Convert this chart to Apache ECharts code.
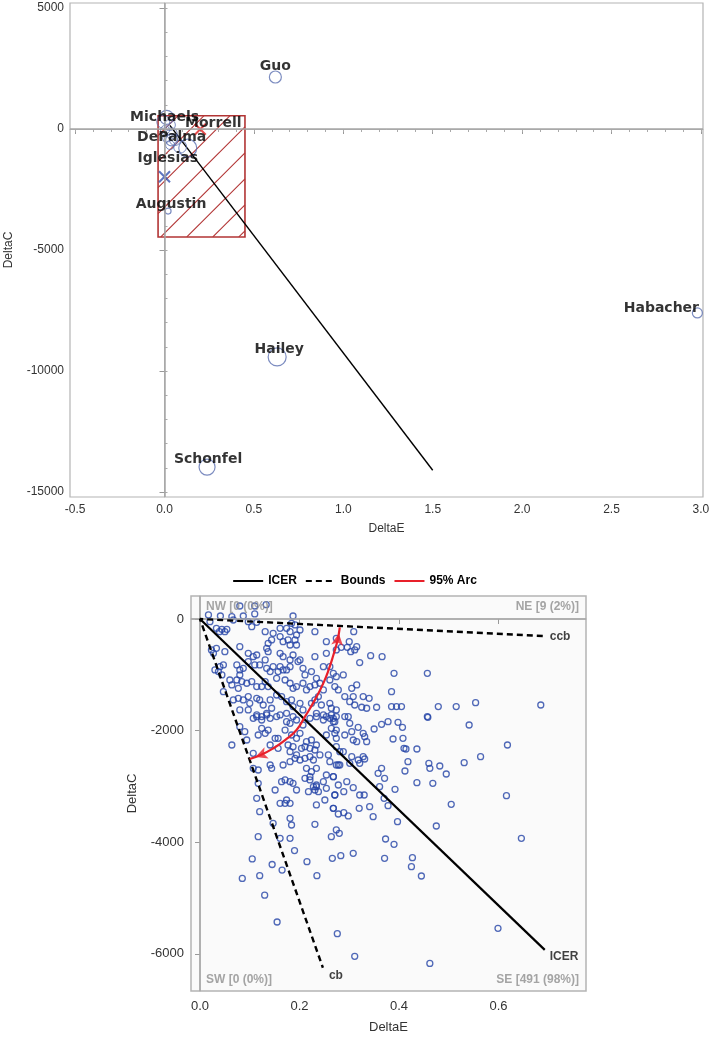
<!DOCTYPE html>
<html><head><meta charset="utf-8">
<script src="https://cdn.jsdelivr.net/npm/echarts@6/dist/echarts.min.js"></script>
<style>html,body{margin:0;padding:0;background:#fff}#c{width:709px;height:1040px}</style>
</head><body><div id="c"></div>
<script>
// ---------- TOP CHART DATA ----------
const studyNames = ['Guo','Michaels','DePalma','Iglesias','Augustin','Habacher','Hailey','Schonfel'];
const studyE = [0.62, 0.012, 0.04, 0.13, 0.02, 2.98, 0.63, 0.238];
const studyC = [2150, 480, -450, -790, -3390, -7600, -9420, -13970];
const clusterE = [-0.007, 0.03, 0.003, 0.04, 0.012, 0.059, 0.031, 0.087];
const clusterC = [300, 165, -40, -180, -385, -455, -660, -730];
const redXName = 'Morrell';
const redXE = [0.2];
const redXC = [-10];
const blueXE = [0.0];
const blueXC = [-1970];
const pooledLineE = [0.03, 1.5];
const pooledLineC = [150, -14100];
const rectE = [-0.036, 0.45];
const rectC = [550, -4460];
const topXTicks = [-0.5, 0, 0.5, 1, 1.5, 2, 2.5, 3];
const topXMinor = [-0.5,-0.4,-0.3,-0.2,-0.1,0,0.1,0.2,0.3,0.4,0.5,0.6,0.7,0.8,0.9,1,1.1,1.2,1.3,1.4,1.5,1.6,1.7,1.8,1.9,2,2.1,2.2,2.3,2.4,2.5,2.6,2.7,2.8,2.9,3];
const topYTicks = [-15000, -10000, -5000, 0, 5000];
const topYMinor = [-15000,-14000,-13000,-12000,-11000,-10000,-9000,-8000,-7000,-6000,-5000,-4000,-3000,-2000,-1000,0,1000,2000,3000,4000,5000];

// ---------- BOTTOM CHART DATA ----------
const bootPoints = [
[0.017,72],[0.020,-48],[0.041,54],[0.064,42],[0.067,-18],[0.087,54],[0.097,-48],[0.110,90],[0.114,-60],[0.080,233],[0.110,233],[0.133,257],[0.187,54],[0.184,-78],
[0.033,-167],[0.044,-185],[0.054,-185],[0.039,-227],[0.050,-227],[0.104,-137],[0.131,-227],[0.147,-257],[0.161,-167],[0.174,-167],[0.181,-227],[0.191,-107],[0.201,-197],[0.194,-287],[0.161,-316],[0.144,-376],[0.137,-436],[0.167,-406],[0.177,-376],[0.181,-466],[0.191,-376],[0.194,-466],[0.231,-227],[0.254,-406],[0.274,-346],
[0.023,-555],[0.033,-525],[0.027,-615],[0.050,-585],[0.080,-496],[0.097,-615],[0.107,-675],[0.114,-645],[0.134,-525],[0.137,-585],[0.161,-615],[0.167,-675],[0.181,-734],[0.187,-645],[0.201,-734],[0.231,-675],[0.254,-615],[0.274,-555],
[0.030,-913],[0.040,-854],[0.047,-824],[0.037,-943],[0.044,-1003],[0.074,-824],[0.080,-913],[0.087,-884],[0.080,-1003],[0.097,-764],[0.110,-824],[0.120,-824],[0.131,-734],[0.134,-884],[0.141,-943],[0.147,-854],[0.157,-943],[0.161,-854],[0.167,-913],[0.174,-913],[0.181,-854],[0.197,-764],[0.207,-884],[0.211,-1003],[0.224,-943],[0.234,-1063],[0.248,-854],[0.261,-854],[0.268,-973],[0.274,-1033],
[0.060,-1093],[0.064,-1182],[0.074,-1093],[0.077,-1242],[0.084,-1122],[0.094,-1152],[0.104,-1122],[0.114,-1212],[0.124,-1212],[0.131,-1122],[0.137,-1212],[0.154,-1063],[0.171,-1093],[0.181,-1152],[0.187,-1242],[0.194,-1212],[0.207,-1152],[0.214,-1272],[0.221,-1212],[0.231,-1182],[0.241,-1152],[0.248,-1272],[0.261,-1093],[0.271,-1212],[0.278,-1272],
[0.047,-1302],[0.067,-1451],[0.077,-1421],[0.087,-1451],[0.097,-1391],[0.100,-1511],[0.114,-1421],[0.120,-1451],[0.127,-1541],[0.141,-1451],[0.154,-1362],[0.164,-1391],[0.174,-1481],[0.184,-1451],[0.187,-1570],[0.201,-1511],[0.207,-1630],[0.224,-1511],[0.231,-1451],[0.238,-1391],[0.244,-1541],[0.261,-1511],[0.264,-1600],[0.274,-1630],
[0.080,-1630],[0.097,-1630],[0.114,-1720],[0.124,-1749],[0.134,-1690],[0.144,-1600],[0.154,-1749],[0.161,-1720],[0.174,-1690],[0.187,-1749],[0.234,-1690],[0.248,-1720],[0.254,-1749],[0.264,-1720],[0.274,-1749],
[0.309,-227],[0.300,-406],[0.315,-496],[0.284,-508],[0.296,-508],[0.303,-585],[0.311,-555],[0.343,-657],[0.366,-675],[0.321,-782],[0.288,-1003],[0.390,-973],[0.457,-973],[0.315,-1182],[0.305,-1242],[0.291,-1391],[0.308,-1391],[0.328,-1391],[0.340,-1421],[0.385,-1302],[0.301,-1481],[0.311,-1541],[0.325,-1582],[0.335,-1600],[0.355,-1582],[0.385,-1570],[0.395,-1570],[0.405,-1570],[0.479,-1570],[0.515,-1570],[0.554,-1499],[0.685,-1541],[0.291,-1749],[0.457,-1749],
[0.080,-1930],[0.090,-2019],[0.064,-2258],[0.094,-2169],[0.107,-1780],[0.114,-1750],[0.124,-1810],[0.134,-1720],[0.141,-1780],[0.124,-1960],[0.137,-1990],[0.117,-2079],[0.131,-2049],[0.151,-2139],[0.157,-2139],[0.141,-2258],[0.157,-2318],[0.174,-1840],[0.181,-1870],[0.194,-1810],[0.207,-1900],[0.221,-1780],[0.234,-1750],[0.248,-1810],[0.261,-1780],[0.268,-1840],[0.171,-1990],[0.184,-2079],[0.194,-2139],[0.201,-2049],[0.214,-2199],[0.224,-2169],[0.234,-2258],[0.177,-2258],[0.187,-2288],[0.204,-2318],[0.211,-2288],[0.221,-2318],[0.231,-2348],[0.241,-2437],[0.254,-2079],[0.264,-1960],[0.271,-2049],[0.274,-2139],[0.274,-2288],[0.181,-2378],[0.194,-2437],[0.191,-2497],[0.201,-2527],[0.211,-2497],[0.221,-2467],[0.228,-2527],[0.167,-2617],[0.181,-2557],[0.214,-2676],[0.224,-2736],[0.234,-2676],[0.107,-2408],[0.141,-2617],[0.144,-2676],[0.107,-2676],[0.117,-2706],[0.181,-2915],[0.171,-2885],[0.164,-2915],[0.187,-2945],[0.211,-2856],[0.221,-2826],[0.221,-2885],[0.234,-2975],[0.248,-2915],[0.254,-2796],[0.268,-2826],[0.274,-2617],[0.261,-2557],[0.258,-2437],[0.117,-2945],[0.151,-3065],[0.194,-3065],[0.218,-3094],[0.228,-3005],[0.234,-3005],[0.231,-3065],[0.238,-3094],[0.254,-3035],[0.271,-3154],[0.114,-3214],[0.161,-3304],[0.171,-3304],[0.181,-3304],[0.174,-3244],[0.234,-3333],[0.251,-3244],[0.268,-3393],[0.120,-3453],[0.181,-3572],[0.184,-3692],[0.231,-3680],[0.147,-3662],[0.117,-3901],[0.161,-3931],[0.181,-3931],[0.274,-3781],[0.264,-3901],
[0.298,-1750],[0.271,-1840],[0.268,-1780],[0.301,-1870],[0.274,-1990],[0.291,-2079],[0.305,-2019],[0.318,-1942],[0.328,-2049],[0.331,-2109],[0.335,-2199],[0.315,-2199],[0.308,-2169],[0.350,-1972],[0.365,-1888],[0.378,-1840],[0.398,-1852],[0.407,-1942],[0.388,-2151],[0.408,-2139],[0.458,-1762],[0.541,-1900],[0.410,-2318],[0.414,-2330],[0.436,-2330],[0.618,-2258],[0.564,-2467],[0.531,-2575],[0.288,-2378],[0.281,-2378],[0.305,-2467],[0.328,-2467],[0.331,-2509],[0.318,-2527],[0.321,-2587],[0.301,-2587],[0.278,-2617],[0.281,-2617],[0.418,-2557],[0.460,-2587],[0.462,-2676],[0.482,-2635],[0.495,-2778],[0.365,-2676],[0.358,-2766],[0.371,-2856],[0.412,-2724],[0.268,-2826],[0.278,-2975],[0.295,-2915],[0.308,-3023],[0.289,-3094],[0.271,-3154],[0.321,-3154],[0.330,-3154],[0.361,-3005],[0.392,-3053],[0.436,-2933],[0.468,-2945],[0.370,-3214],[0.378,-3345],[0.341,-3363],[0.348,-3542],[0.320,-3393],[0.289,-3471],[0.278,-3495],[0.298,-3530],[0.268,-3393],[0.616,-3166],[0.505,-3322],[0.397,-3632],[0.475,-3710],[0.280,-3841],[0.373,-3943],[0.390,-4038],[0.646,-3931],[0.266,-4289],[0.283,-4241],[0.308,-4200],[0.371,-4289],[0.427,-4277],[0.425,-4439],[0.445,-4606],[0.599,-5544],[0.276,-5640],[0.311,-6046],[0.462,-6172],
[0.085,-4650],[0.105,-4300],[0.130,-4950],[0.155,-5430],[0.120,-4600],[0.165,-4500],[0.190,-4150],[0.145,-4400],[0.215,-4350],[0.235,-4600]
];
const icerE = [0, 0.693];
const icerC = [0, -5930];
const boundsE = [0.689, 0, 0.247];   // ccb end, origin, cb end
const boundsC = [-305, 0, -6250];
const arcE = [0.281, 0.276, 0.268, 0.259, 0.248, 0.231, 0.211, 0.194, 0.171, 0.147, 0.124, 0.100];
const arcC = [-150, -400, -650, -900, -1150, -1450, -1750, -1990, -2170, -2320, -2430, -2510];
const quadNames = ['NW', 'NE', 'SW', 'SE'];
const quadCounts = [0, 9, 0, 491];
const quadPct = [0, 2, 0, 98];
const botXTicks = [0, 0.2, 0.4, 0.6];
const botYTicks = [-6000, -4000, -2000, 0];

// ---------- layout / style ----------
const T = {min:-0.5285, max:3.0115, ymin:-15207, ymax:5207};
const B = {min:-0.0181, max:0.7759, ymin:-6667, ymax:412};
const FONT = 'Liberation Sans, Arial, sans-serif';
const LBL = 'DejaVu Sans, Verdana, sans-serif';
const studyStyle = {
  Guo:{size:12, off:[0,-11]}, Michaels:{size:14, off:[-2,0]}, DePalma:{size:12, off:[0,-3]},
  Iglesias:{size:18, off:[-20,10]}, Augustin:{size:6, off:[3,-7]}, Habacher:{size:10, off:[-36,-5]},
  Hailey:{size:18, off:[2,-8]}, Schonfel:{size:16, off:[1,-8]}
};
const clusterSizes = [13, 11, 9, 11, 8, 11, 9, 13];
const HATCH = 26;
const RED = '#b23434';

const axisGrey = '#b4b4b4';
const xPath = 'path://M0,0L10,10M10,0L0,10';

function zipEC(E, C){ return E.map((e,i)=>[e, C[i]]); }

function renderHatchRect(params, api){
  const a = api.coord([api.value(0), api.value(1)]);
  const b = api.coord([api.value(2), api.value(3)]);
  const x0 = Math.min(a[0], b[0]), x1 = Math.max(a[0], b[0]);
  const y0 = Math.min(a[1], b[1]), y1 = Math.max(a[1], b[1]);
  const children = [];
  for (let k = x0 + y0 + 20; k < x1 + y1; k += HATCH) {
    const xs = Math.max(x0, k - y1), xe = Math.min(x1, k - y0);
    if (xe <= xs) continue;
    children.push({type:'line', shape:{x1:xs, y1:k - xs, x2:xe, y2:k - xe},
      style:{stroke:RED, lineWidth:1.1, fill:null}});
  }
  children.push({type:'rect', shape:{x:x0, y:y0, width:x1-x0, height:y1-y0},
    style:{fill:null, stroke:RED, lineWidth:1.6}});
  return {type:'group', children};
}

const chart = echarts.init(document.getElementById('c'), null, {renderer:'canvas'});
const option = {
  animation:false,
  backgroundColor:'#fff',
  textStyle:{fontFamily:FONT},
  legend:{
    data:['ICER','Bounds','95% Arc'],
    top:570, left:'center', itemWidth:30, itemHeight:10, itemGap:8,
    itemStyle:{opacity:0},
    textStyle:{fontWeight:'bold', fontSize:12, color:'#000', fontFamily:FONT}
  },
  grid:[
    {left:70, top:3, width:633, height:494, show:true, borderColor:axisGrey, borderWidth:1.2, backgroundColor:'#fff', containLabel:false, outerBoundsMode:'none'},
    {left:191, top:596, width:395, height:395, show:true, borderColor:axisGrey, borderWidth:1.5, backgroundColor:'#fafafa', containLabel:false, outerBoundsMode:'none'}
  ],
  xAxis:[
    {gridIndex:0, type:'value', min:T.min, max:T.max, position:'bottom',
     name:'DeltaE', nameLocation:'middle', nameGap:26, nameTextStyle:{fontSize:12, color:'#333'},
     axisLine:{show:true, lineStyle:{color:axisGrey}}, splitLine:{show:false},
     axisTick:{show:true, customValues:topXTicks, length:5, lineStyle:{color:'#999'}},
     axisLabel:{customValues:topXTicks, fontSize:12, color:'#333', margin:7, formatter:v=>v.toFixed(1)}},
    {gridIndex:0, type:'value', min:T.min, max:T.max, position:'bottom',
     axisLine:{show:false}, splitLine:{show:false}, axisLabel:{show:false},
     axisTick:{show:true, customValues:topXMinor, length:3, lineStyle:{color:'#aaa'}}},
    {gridIndex:1, type:'value', min:B.min, max:B.max, position:'bottom',
     name:'DeltaE', nameLocation:'middle', nameGap:30, nameTextStyle:{fontSize:13, color:'#333'},
     axisLine:{show:true, lineStyle:{color:axisGrey, width:1.5}}, splitLine:{show:false},
     axisTick:{show:true, customValues:botXTicks, length:5, lineStyle:{color:'#999'}},
     axisLabel:{customValues:botXTicks, fontSize:13, color:'#333', margin:9, formatter:v=>v.toFixed(1)}}
  ],
  yAxis:[
    {gridIndex:0, type:'value', min:T.ymin, max:T.ymax,
     name:'DeltaC', nameLocation:'middle', nameGap:55, nameTextStyle:{fontSize:12, color:'#333'},
     axisLine:{show:true, lineStyle:{color:axisGrey}}, splitLine:{show:false},
     axisTick:{show:true, customValues:topYTicks, length:5, lineStyle:{color:'#999'}},
     axisLabel:{customValues:topYTicks, fontSize:12, color:'#333', margin:6, formatter:v=>String(v)}},
    {gridIndex:0, type:'value', min:T.ymin, max:T.ymax,
     axisLine:{show:false}, splitLine:{show:false}, axisLabel:{show:false},
     axisTick:{show:true, customValues:topYMinor, length:3, lineStyle:{color:'#aaa'}}},
    {gridIndex:1, type:'value', min:B.ymin, max:B.ymax,
     name:'DeltaC', nameLocation:'middle', nameGap:52, nameTextStyle:{fontSize:13, color:'#333'},
     axisLine:{show:true, lineStyle:{color:axisGrey, width:1.5}}, splitLine:{show:false},
     axisTick:{show:true, customValues:botYTicks, length:5, lineStyle:{color:'#999'}},
     axisLabel:{customValues:botYTicks, fontSize:13, color:'#333', margin:7, formatter:v=>String(v)}}
  ],
  series:[
    // ---- top chart ----
    {name:'refTop', type:'line', xAxisIndex:0, yAxisIndex:0, data:[], silent:true,
     markLine:{silent:true, symbol:'none', label:{show:false},
       lineStyle:{color:'#a6a6a6', width:1.5, type:'solid'},
       data:[{xAxis:0},{yAxis:0}]}},
    {name:'rect', type:'custom', xAxisIndex:0, yAxisIndex:0, silent:true, z:2,
     itemStyle:{color:RED},
     renderItem:renderHatchRect, encode:{x:[0,2], y:[1,3]},
     data:[[rectE[0], rectC[0], rectE[1], rectC[1]]]},
    {name:'pooled', type:'line', xAxisIndex:0, yAxisIndex:0, symbol:'none', z:3,
     lineStyle:{color:'#000', width:1.4}, data:zipEC(pooledLineE, pooledLineC)},
    {name:'cluster', type:'scatter', xAxisIndex:0, yAxisIndex:0, z:4,
     data:clusterE.map((e,i)=>({value:[e, clusterC[i]], symbolSize:clusterSizes[i]})),
     symbol:'circle', itemStyle:{color:'rgba(0,0,0,0)', borderColor:'#5b6fb0', borderWidth:1}},
    {name:'studies', type:'scatter', xAxisIndex:0, yAxisIndex:0, z:4,
     data:studyNames.map((n,i)=>({name:n, value:[studyE[i], studyC[i]], symbolSize:studyStyle[n].size})),
     symbol:'circle', itemStyle:{color:'rgba(0,0,0,0)', borderColor:'#5b6fb0', borderWidth:1.2}},
    {name:'redX', type:'scatter', xAxisIndex:0, yAxisIndex:0, z:4, symbol:xPath, symbolSize:11,
     itemStyle:{color:'rgba(0,0,0,0)', borderColor:'#e02020', borderWidth:2},
     data:zipEC(redXE, redXC)},
    {name:'blueX', type:'scatter', xAxisIndex:0, yAxisIndex:0, z:4, symbol:xPath, symbolSize:11,
     itemStyle:{color:'rgba(0,0,0,0)', borderColor:'#3552b0', borderWidth:2},
     data:zipEC(blueXE, blueXC)},
    {name:'studyLabels', type:'scatter', xAxisIndex:0, yAxisIndex:0, z:6, symbolSize:1, silent:true, clip:false,
     itemStyle:{color:'rgba(0,0,0,0)'},
     data:studyNames.map((n,i)=>({name:n, value:[studyE[i], studyC[i]], label:{offset:studyStyle[n].off}}))
       .concat([{name:redXName, value:[redXE[0], redXC[0]], label:{offset:[13,-6]}}]),
     label:{show:true, position:'inside', formatter:p=>p.name, fontFamily:LBL, fontWeight:'bold', fontSize:14, color:'#000'}},

    // ---- bottom chart ----
    {name:'refBot', type:'line', xAxisIndex:2, yAxisIndex:2, data:[], silent:true,
     markLine:{silent:true, symbol:'none', label:{show:false},
       lineStyle:{color:'#a8a8a8', width:1.5, type:'solid'},
       data:[{xAxis:0},{yAxis:0}]}},
    {name:'boot', type:'scatter', xAxisIndex:2, yAxisIndex:2, z:3, symbol:'circle', symbolSize:6,
     itemStyle:{color:'rgba(0,0,0,0)', borderColor:'#2444a6', borderWidth:1.3},
     data:bootPoints},
    {name:'ICER', type:'line', xAxisIndex:2, yAxisIndex:2, z:5, symbol:'none',
     lineStyle:{color:'#000', width:2.2, type:'solid'}, itemStyle:{color:'#000'},
     data:zipEC(icerE, icerC)},
    {name:'Bounds', type:'line', xAxisIndex:2, yAxisIndex:2, z:5, symbol:'none',
     lineStyle:{color:'#000', width:2.4, type:[6,4]}, itemStyle:{color:'#000'},
     data:zipEC(boundsE, boundsC)},
    {name:'95% Arc', type:'line', xAxisIndex:2, yAxisIndex:2, z:6, symbol:'none', smooth:true,
     lineStyle:{color:'#e8202a', width:2.2}, itemStyle:{color:'#e8202a'},
     data:zipEC(arcE, arcC)},
    {name:'arcHeads', type:'scatter', xAxisIndex:2, yAxisIndex:2, z:7, symbol:'arrow', silent:true,
     itemStyle:{color:'#e8202a'},
     data:[
       {value:[arcE[0], arcC[0]], symbolSize:[9,12], symbolRotate:-8, symbolOffset:[-1,6]},
       {value:[arcE[arcE.length-1], arcC[arcC.length-1]], symbolSize:[9,12], symbolRotate:110, symbolOffset:[5.6,-2.1]}
     ]},
    {name:'lineLabels', type:'scatter', xAxisIndex:2, yAxisIndex:2, z:8, symbolSize:1, silent:true, clip:false,
     itemStyle:{color:'rgba(0,0,0,0)'},
     label:{show:true, position:'inside', formatter:p=>p.name, fontWeight:'bold', fontSize:12, color:'#111', fontFamily:FONT, align:'left'},
     data:[
       {name:'ICER', value:[icerE[1], icerC[1]], label:{offset:[5,7]}},
       {name:'ccb', value:[boundsE[0], boundsC[0]], label:{offset:[7,1]}},
       {name:'cb', value:[boundsE[2], boundsC[2]], label:{offset:[6,8]}}
     ]},
    {name:'quadLabels', type:'scatter', xAxisIndex:2, yAxisIndex:2, z:8, symbolSize:1, silent:true, clip:false,
     itemStyle:{color:'rgba(0,0,0,0)'},
     label:{show:true, position:'inside', formatter:p=>p.name, fontWeight:'bold', fontSize:12, color:'#8e8e8e', fontFamily:FONT},
     data:quadNames.map((q,i)=>{
       const right = (q==='NE'||q==='SE'), top = (q==='NW'||q==='NE');
       return {name:`${q} [${quadCounts[i]} (${quadPct[i]}%)]`,
         value:[right?B.max:B.min, top?B.ymax:B.ymin],
         label:{align:right?'right':'left', offset:[right?-7:15, top?11:-11]}};
     })}
  ]
};
chart.setOption(option);
</script></body></html>
